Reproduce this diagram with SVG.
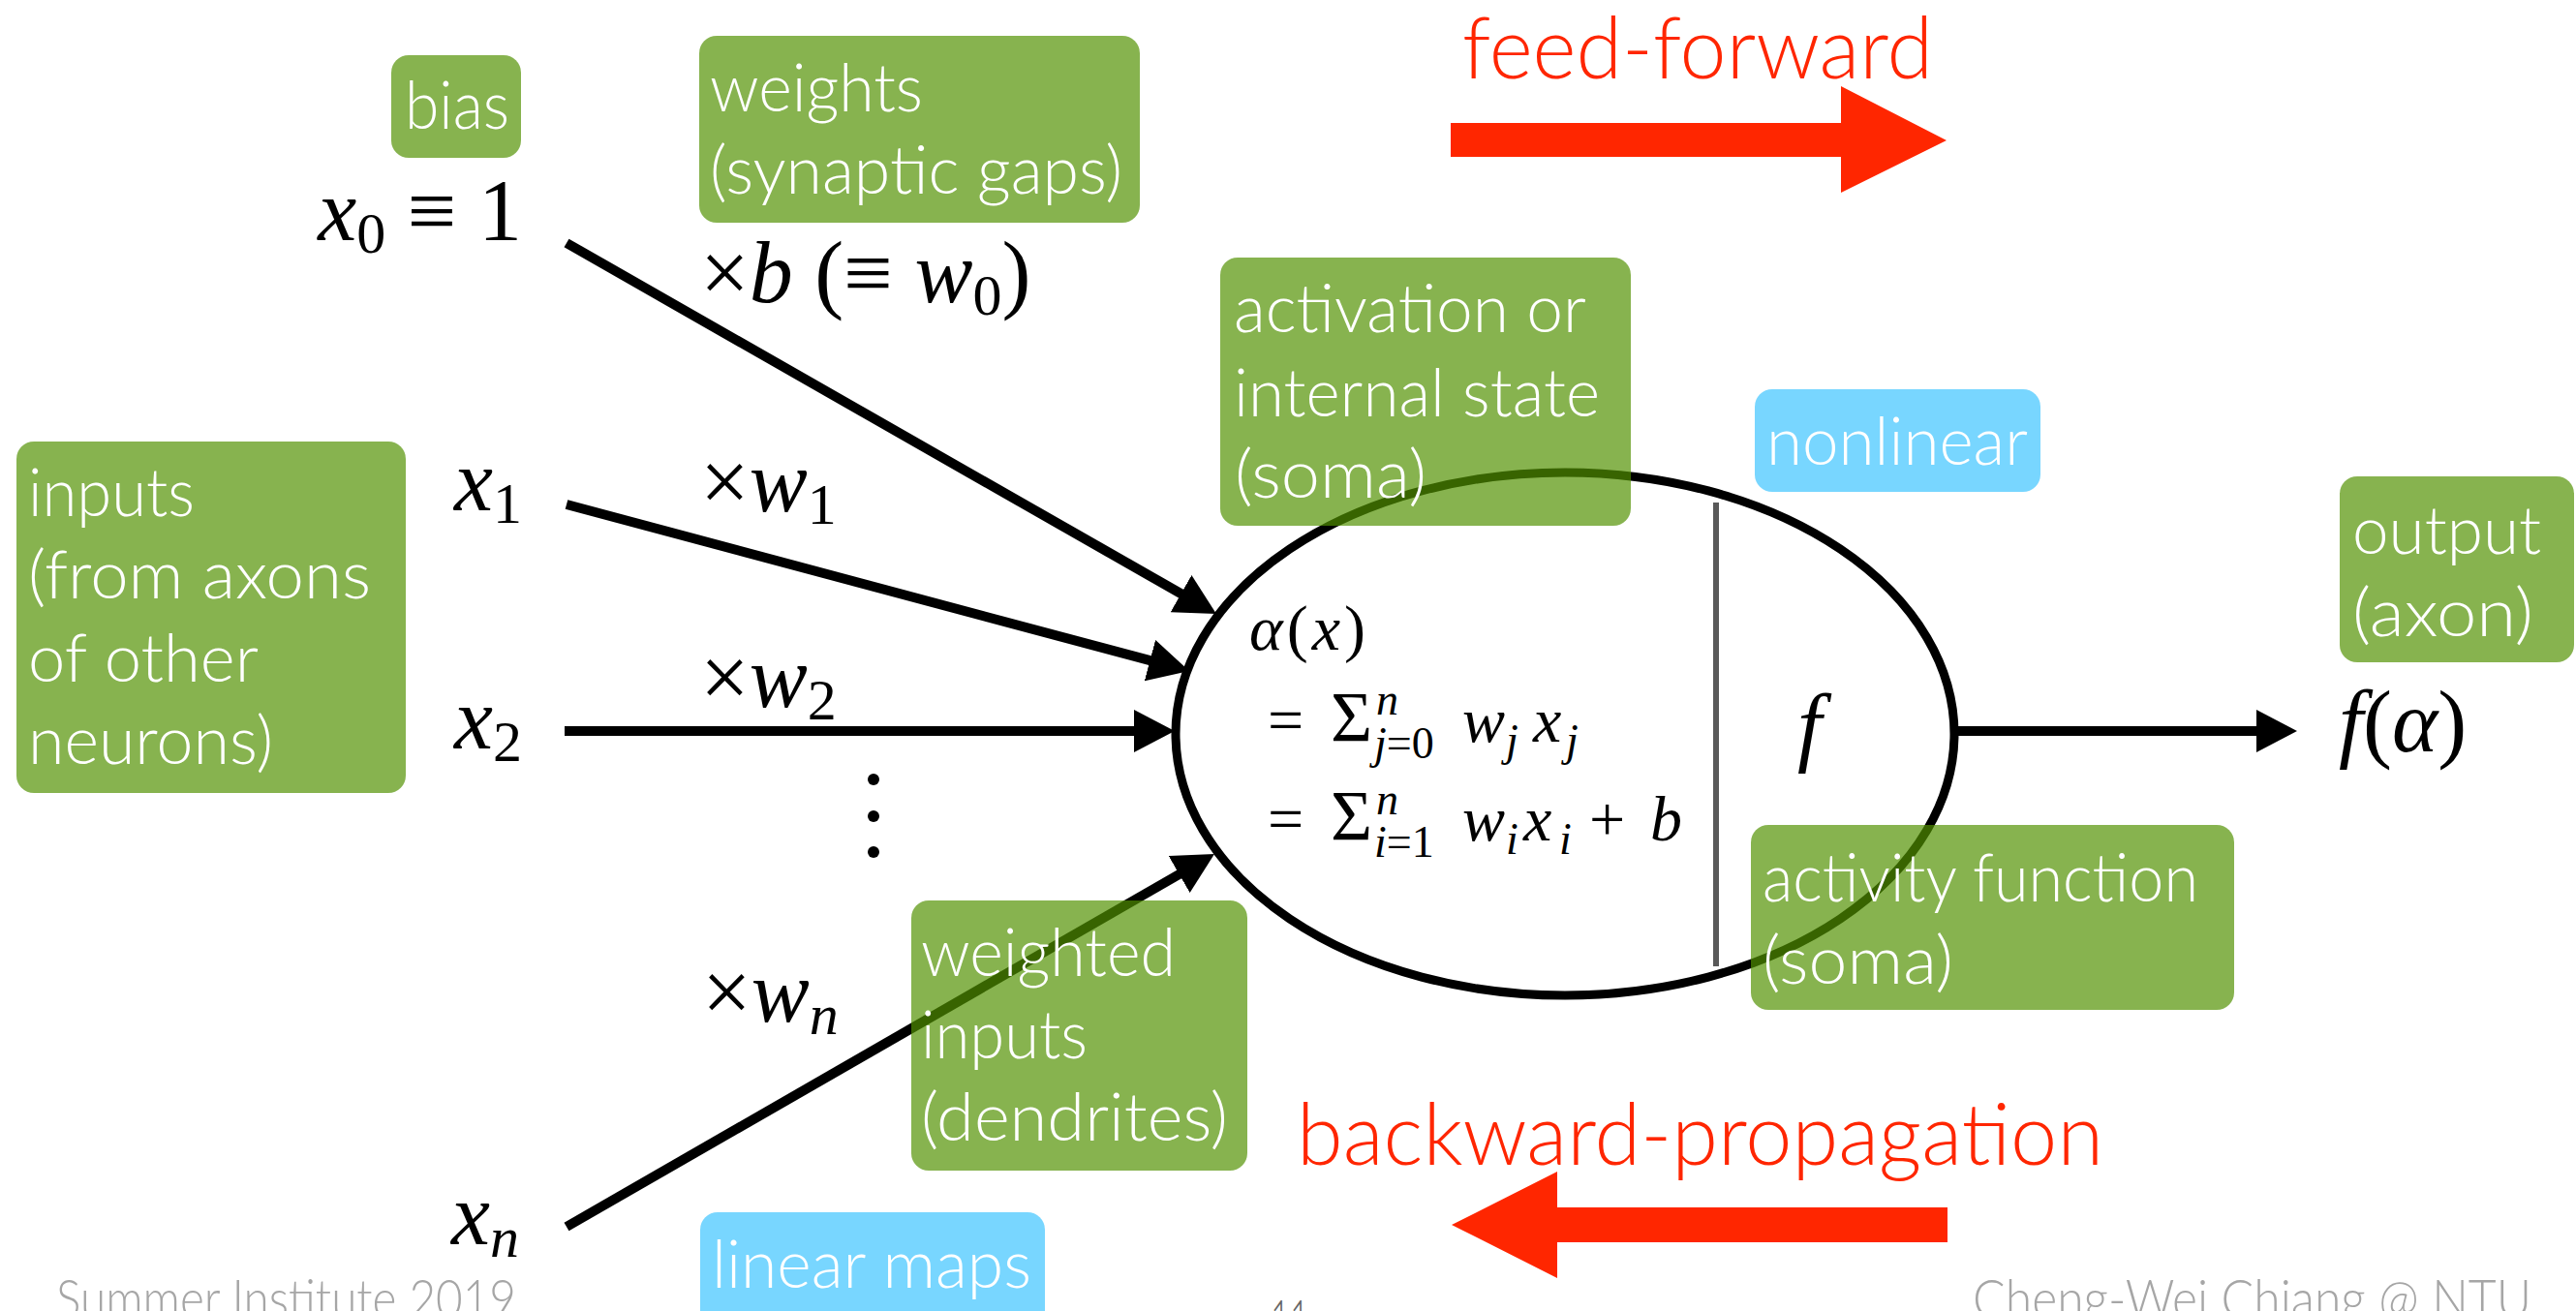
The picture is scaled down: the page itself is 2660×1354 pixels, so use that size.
<svg xmlns="http://www.w3.org/2000/svg" width="2660" height="1354" viewBox="0 0 2660 1354">
<defs>
<style>
.box{fill:#519100;fill-opacity:0.69}
.blue{fill:#78d6ff}
.lbl{font-family:Lato,"Open Sans","Liberation Sans",sans-serif;font-weight:300;font-size:68px;fill:#ffffff}
.red{font-family:Lato,"Open Sans","Liberation Sans",sans-serif;font-weight:300;font-size:88px;fill:#ff2600}
.foot{font-family:Lato,"Open Sans","Liberation Sans",sans-serif;font-weight:300;font-size:56px;fill:#a6a6a6}
.m{font-family:"Liberation Serif","DejaVu Serif",serif;font-size:90px;fill:#000}
.ms{font-family:"Liberation Serif","DejaVu Serif",serif;font-size:66px;fill:#000}
.i{font-style:italic}
.sub{font-size:60px}
.sub2{font-size:46px}
.sig{font-size:74px}
.conn{stroke:#000;stroke-width:10;fill:none;marker-end:url(#ah)}
</style>
<marker id="ah" markerUnits="userSpaceOnUse" viewBox="0 0 42 44" markerWidth="42" markerHeight="44" refX="4" refY="22" orient="auto">
<path d="M0,0 L42,22 L0,44 z" fill="#000"/>
</marker>
</defs>
<rect width="2660" height="1354" fill="#ffffff"/>

<g id="neuron">
<ellipse cx="1616" cy="758" rx="402" ry="270" fill="none" stroke="#000" stroke-width="9"/>
<line x1="1772" y1="519" x2="1772" y2="998" stroke="#595959" stroke-width="6"/>
</g>

<g id="connectors">
<line class="conn" x1="585" y1="251" x2="1223" y2="615.2"/>
<line class="conn" x1="585" y1="521" x2="1191.3" y2="683.2"/>
<line class="conn" x1="583" y1="755" x2="1175" y2="755"/>
<line class="conn" x1="585" y1="1267" x2="1221.1" y2="901"/>
<line class="conn" x1="2017" y1="755" x2="2334" y2="755"/>
</g>

<g id="dots" fill="#000">
<circle cx="902" cy="805" r="6"/>
<circle cx="902" cy="843" r="6"/>
<circle cx="902" cy="880" r="6"/>
</g>

<g id="feed-forward">
<polygon fill="#ff2600" points="1498,127 1901,127 1901,89 2010,145 1901,199 1901,162 1498,162"/>
<text class="red" x="1510" y="81" textLength="486" lengthAdjust="spacingAndGlyphs">feed-forward</text>
</g>
<g id="backward-propagation">
<polygon fill="#ff2600" points="2011,1247 1608,1247 1608,1210 1499,1265 1608,1320 1608,1283 2011,1283"/>
<text class="red" x="1339" y="1203" textLength="833" lengthAdjust="spacingAndGlyphs">backward-propagation</text>
</g>

<g id="math-inputs">
<text class="m" x="539" y="248" text-anchor="end"><tspan class="i">x</tspan><tspan class="sub" dy="13">0</tspan><tspan dy="-13"> ≡ 1</tspan></text>
<text class="m" x="723" y="312"><tspan>×</tspan><tspan class="i">b</tspan><tspan> (≡ </tspan><tspan class="i">w</tspan><tspan class="sub" dy="13">0</tspan><tspan dy="-13">)</tspan></text>
<text class="m" x="539" y="527" text-anchor="end"><tspan class="i">x</tspan><tspan class="sub" dy="13">1</tspan></text>
<text class="m" x="723" y="528"><tspan>×</tspan><tspan class="i">w</tspan><tspan class="sub" dy="13">1</tspan></text>
<text class="m" x="539" y="773" text-anchor="end"><tspan class="i">x</tspan><tspan class="sub" dy="13">2</tspan></text>
<text class="m" x="723" y="730"><tspan>×</tspan><tspan class="i">w</tspan><tspan class="sub" dy="13">2</tspan></text>
<text class="m" x="725" y="1055"><tspan>×</tspan><tspan class="i">w</tspan><tspan class="sub i" dy="13">n</tspan></text>
<text class="m" x="536" y="1285" text-anchor="end"><tspan class="i">x</tspan><tspan class="sub i" dy="13">n</tspan></text>
</g>

<g id="math-soma">
<text class="ms" x="1290" y="671" textLength="120" lengthAdjust="spacing"><tspan class="i">α</tspan>(<tspan class="i">x</tspan>)</text>
<text class="ms"><tspan x="1309" y="766">=</tspan><tspan class="sig" x="1374" y="766">Σ</tspan><tspan class="sub2 i" x="1421" y="738">n</tspan><tspan class="sub2" x="1419" y="783"><tspan class="i">j</tspan>=0</tspan><tspan class="i" x="1510" y="766">w</tspan><tspan class="sub2 i" x="1555" y="780">j</tspan><tspan class="i" x="1583" y="766">x</tspan><tspan class="sub2 i" x="1617" y="780">j</tspan></text>
<text class="ms"><tspan x="1309" y="868">=</tspan><tspan class="sig" x="1374" y="868">Σ</tspan><tspan class="sub2 i" x="1421" y="841">n</tspan><tspan class="sub2" x="1419" y="885"><tspan class="i">i</tspan>=1</tspan><tspan class="i" x="1510" y="868">w</tspan><tspan class="sub2 i" x="1555" y="882">i</tspan><tspan class="i" x="1573" y="868">x</tspan><tspan class="sub2 i" x="1610" y="882">i</tspan><tspan x="1641" y="868">+</tspan><tspan class="i" x="1704" y="868">b</tspan></text>
<text class="m i" x="1856" y="780" font-size="84">f</text>
</g>

<g id="math-output">
<text class="m" x="2415" y="776"><tspan class="i">f</tspan>(<tspan class="i">α</tspan>)</text>
</g>

<g id="bias">
<rect class="box" x="404" y="57" width="134" height="106" rx="18"/>
<text class="lbl" x="418" y="133" textLength="108" lengthAdjust="spacingAndGlyphs">bias</text>
</g>
<g id="weights">
<rect class="box" x="722" y="37" width="455" height="193" rx="18"/>
<text class="lbl" x="733" y="115" textLength="220" lengthAdjust="spacingAndGlyphs">weights</text>
<text class="lbl" x="733" y="200" textLength="426" lengthAdjust="spacingAndGlyphs">(synaptic gaps)</text>
</g>
<g id="activation">
<rect class="box" x="1260" y="266" width="424" height="277" rx="18"/>
<text class="lbl" x="1274" y="343" textLength="364" lengthAdjust="spacingAndGlyphs">activation or</text>
<text class="lbl" x="1274" y="430" textLength="378" lengthAdjust="spacingAndGlyphs">internal state</text>
<text class="lbl" x="1275" y="514" textLength="198" lengthAdjust="spacingAndGlyphs">(soma)</text>
</g>
<g id="nonlinear">
<rect class="blue" x="1812" y="402" width="295" height="106" rx="18"/>
<text class="lbl" x="1824" y="480" textLength="270" lengthAdjust="spacingAndGlyphs">nonlinear</text>
</g>
<g id="inputs">
<rect class="box" x="17" y="456" width="402" height="363" rx="18"/>
<text class="lbl" x="29" y="533" textLength="172" lengthAdjust="spacingAndGlyphs">inputs</text>
<text class="lbl" x="29" y="618" textLength="354" lengthAdjust="spacingAndGlyphs">(from axons</text>
<text class="lbl" x="29" y="704" textLength="238" lengthAdjust="spacingAndGlyphs">of other</text>
<text class="lbl" x="29" y="789" textLength="253" lengthAdjust="spacingAndGlyphs">neurons)</text>
</g>
<g id="output">
<rect class="box" x="2416" y="492" width="242" height="192" rx="18"/>
<text class="lbl" x="2429" y="572" textLength="195" lengthAdjust="spacingAndGlyphs">output</text>
<text class="lbl" x="2429" y="657" textLength="187" lengthAdjust="spacingAndGlyphs">(axon)</text>
</g>
<g id="activity-function">
<rect class="box" x="1808" y="852" width="499" height="191" rx="18"/>
<text class="lbl" x="1820" y="931" textLength="450" lengthAdjust="spacingAndGlyphs">activity function</text>
<text class="lbl" x="1820" y="1016" textLength="197" lengthAdjust="spacingAndGlyphs">(soma)</text>
</g>
<g id="weighted-inputs">
<rect class="box" x="941" y="930" width="347" height="279" rx="18"/>
<text class="lbl" x="951" y="1008" textLength="263" lengthAdjust="spacingAndGlyphs">weighted</text>
<text class="lbl" x="951" y="1093" textLength="172" lengthAdjust="spacingAndGlyphs">inputs</text>
<text class="lbl" x="951" y="1178" textLength="317" lengthAdjust="spacingAndGlyphs">(dendrites)</text>
</g>
<g id="linear-maps">
<rect class="blue" x="723" y="1252" width="356" height="130" rx="18"/>
<text class="lbl" x="735" y="1330" textLength="330" lengthAdjust="spacingAndGlyphs">linear maps</text>
</g>

<g id="footer">
<text class="foot" x="58" y="1361" textLength="475" lengthAdjust="spacingAndGlyphs">Summer Institute 2019</text>
<text class="foot" x="2037" y="1361" textLength="577" lengthAdjust="spacingAndGlyphs">Cheng-Wei Chiang @ NTU</text>
<text class="foot" x="1312" y="1382" font-size="44" style="fill:#666666" textLength="40" lengthAdjust="spacingAndGlyphs">11</text>
</g>
</svg>
